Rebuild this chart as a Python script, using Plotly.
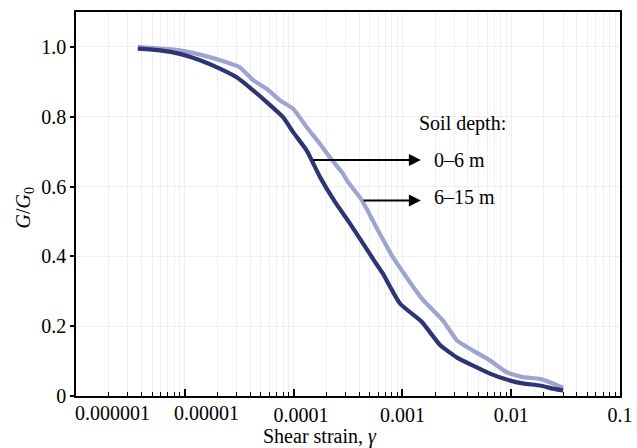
import plotly.graph_objects as go

# Shear modulus reduction curves for two depth ranges
strain_shallow = [3.7e-6, 5.9e-6, 9.0e-6, 1.38e-5, 2.1e-5, 3.0e-5, 4.27e-5, 5.66e-5,
                  8.0e-5, 9.9e-5, 1.32e-4, 1.75e-4, 2.4e-4, 3.3e-4, 5.5e-4, 6.6e-4,
                  9.5e-4, 1.51e-3, 2.22e-3, 3.18e-3, 4.46e-3, 6.38e-3, 9.1e-3,
                  1.28e-2, 1.84e-2, 2.42e-2, 3.0e-2]
ratio_shallow = [0.995, 0.990, 0.980, 0.962, 0.938, 0.913, 0.875, 0.842,
                 0.799, 0.756, 0.703, 0.627, 0.556, 0.494, 0.388, 0.351,
                 0.265, 0.212, 0.146, 0.110, 0.087, 0.064, 0.047,
                 0.036, 0.030, 0.021, 0.016]

strain_deep = [3.7e-6, 9.0e-6, 1.38e-5, 2.43e-5, 3.2e-5, 4.27e-5, 5.66e-5, 7.5e-5,
               9.9e-5, 1.32e-4, 1.75e-4, 2.16e-4, 2.84e-4, 3.1e-4, 4.26e-4, 5.97e-4,
               8.2e-4, 1.51e-3, 2.36e-3, 3.18e-3, 4.46e-3, 6.38e-3, 9.1e-3,
               1.28e-2, 1.84e-2, 2.42e-2, 3.0e-2]
ratio_deep = [1.000, 0.990, 0.978, 0.956, 0.942, 0.904, 0.880, 0.847,
              0.823, 0.770, 0.722, 0.683, 0.637, 0.617, 0.560, 0.474,
              0.397, 0.279, 0.216, 0.159, 0.130, 0.102, 0.068,
              0.054, 0.049, 0.036, 0.024]

x_tickvals = [1e-6, 1e-5, 1e-4, 1e-3, 1e-2, 1e-1]
x_ticktext = ["", "", "\u00a0\u00a0\u00a0" + "0.0001", "0.001", "0.01", "0.1"]
# the two smallest decade labels sit to the right of their ticks
low_labels = ["0.000001", "0.00001"]
low_label_pos = [0.0676, 0.239]
y_tickvals = [0, 0.2, 0.4, 0.6, 0.8, 1.0]
y_ticktext = ["0", "0.2", "0.4", "0.6", "0.8", "1.0"]

series_names = ["0\u20136 m", "6\u201315 m"]
series_colors = ["#2e3474", "#9da4cf"]

FONT = "Times New Roman, Liberation Serif, DejaVu Serif, serif"
GRID = "#efeff1"

minor_vals = [k * 10.0 ** e for e in range(-6, -1) for k in range(2, 10)]

fig = go.Figure()
fig.add_trace(go.Scatter(x=strain_deep, y=ratio_deep, mode="lines",
                         line=dict(color=series_colors[1], width=4.2,
                                   shape="spline", smoothing=0.5),
                         name=series_names[1], showlegend=False))
fig.add_trace(go.Scatter(x=strain_shallow, y=ratio_shallow, mode="lines",
                         line=dict(color=series_colors[0], width=4.2,
                                   shape="spline", smoothing=0.5),
                         name=series_names[0], showlegend=False))

# white panel behind the depth labels
fig.add_shape(type="rect", xref="paper", yref="paper",
              x0=0.614, x1=0.914, y0=0.437, y1=0.841,
              fillcolor="white", line=dict(width=0), layer="between")

fig.add_annotation(text="Soil depth:", x=-2.866, y=0.781, xref="x", yref="y",
                   xanchor="left", yanchor="middle", showarrow=False,
                   font=dict(family=FONT, size=20, color="black"))

label_y = [0.675, 0.569]
arrow_tail = [(-3.834, 0.676), (-3.371, 0.560)]
for name, ly, (tx, ty) in zip(series_names, label_y, arrow_tail):
    fig.add_annotation(text=name, x=-2.728, y=ly, xref="x", yref="y",
                       xanchor="left", yanchor="middle", showarrow=False,
                       font=dict(family=FONT, size=20, color="black"))
    fig.add_annotation(text="", x=-2.83, y=ty, xref="x", yref="y",
                       ax=tx, ay=ty, axref="x", ayref="y",
                       showarrow=True, arrowhead=2, arrowsize=1.2,
                       arrowwidth=2, arrowcolor="black", standoff=0)

for txt, px in zip(low_labels, low_label_pos):
    fig.add_annotation(text=txt, xref="paper", yref="paper", x=px, y=0,
                       xanchor="center", yanchor="top", yshift=-4,
                       showarrow=False, font=dict(family=FONT, size=20, color="black"))

fig.add_annotation(text="Shear strain, <i>\u03b3</i>", xref="paper", yref="paper",
                   x=0.4485, y=-0.106, xanchor="center", yanchor="middle",
                   showarrow=False, font=dict(family=FONT, size=20, color="black"))
fig.add_annotation(text="<i>G</i>/<i>G</i><sub>0</sub>", xref="paper", yref="paper",
                   x=-0.095, y=0.489, xanchor="center", yanchor="middle",
                   textangle=-90, showarrow=False,
                   font=dict(family=FONT, size=20, color="black"))

fig.update_xaxes(type="log", range=[-6, -1], tickangle=0, automargin=False,
                 tickmode="array", tickvals=x_tickvals, ticktext=x_ticktext,
                 ticks="inside", ticklen=7, tickwidth=1.5, tickcolor="black",
                 showline=True, linecolor="black", linewidth=1.5, mirror=True,
                 showgrid=True, gridcolor=GRID, gridwidth=1, zeroline=False,
                 minor=dict(tickmode="array", tickvals=minor_vals, ticks="inside",
                            ticklen=4, tickwidth=1.2, tickcolor="black",
                            showgrid=True, gridcolor=GRID, gridwidth=1),
                 tickfont=dict(family=FONT, size=20, color="black"))
fig.update_yaxes(range=[0, 1.1], tickmode="array", tickvals=y_tickvals,
                 ticktext=y_ticktext, ticks="outside", ticklen=4, tickwidth=1.5,
                 tickcolor="black", showline=True, linecolor="black", linewidth=1.5,
                 mirror=True, showgrid=True, gridcolor=GRID, gridwidth=1,
                 zeroline=False, automargin=False,
                 tickfont=dict(family=FONT, size=20, color="black"))

fig.update_layout(width=637, height=448, margin=dict(l=76, r=17, t=12, b=52),
                  paper_bgcolor="white", plot_bgcolor="white",
                  font=dict(family=FONT, size=20, color="black"))

fig.write_html("out.html")
